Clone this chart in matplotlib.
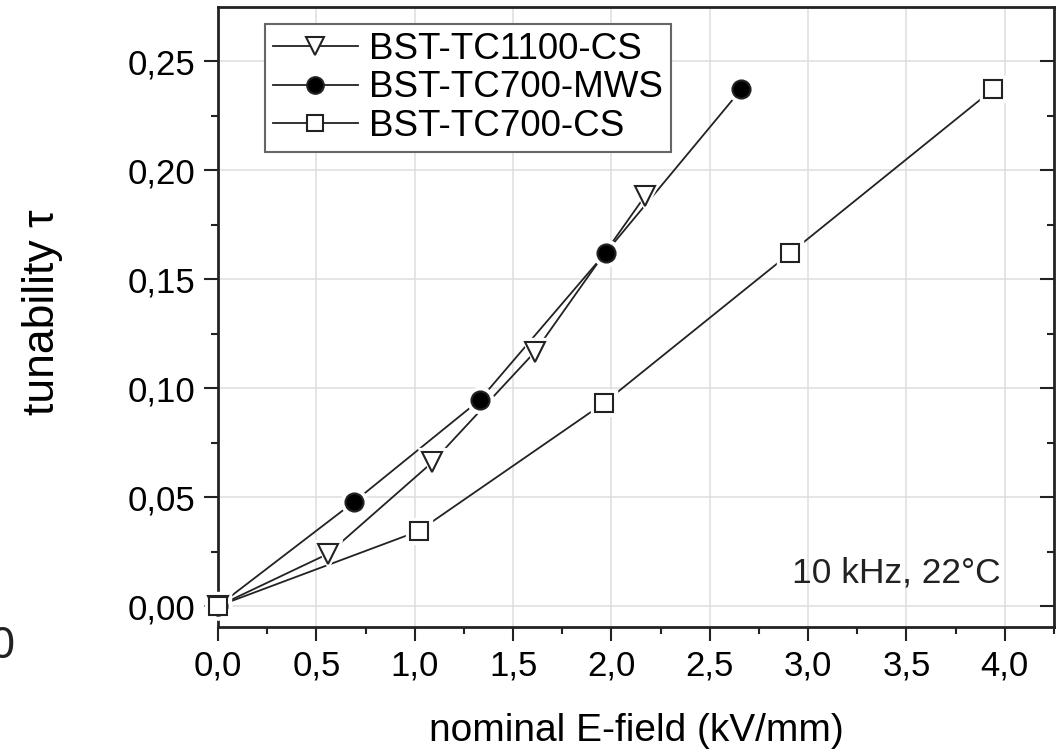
import matplotlib
matplotlib.use('Agg')
import matplotlib.pyplot as plt
from matplotlib.ticker import MultipleLocator, FuncFormatter

plt.rcParams['font.family'] = ['Liberation Sans', 'DejaVu Sans']

# data
e_tc1100_cs = [0.0, 0.56, 1.09, 1.61, 2.17]
tau_tc1100_cs = [0.0, 0.024, 0.066, 0.1165, 0.188]

e_tc700_mws = [0.0, 0.69, 1.33, 1.97, 2.66]
tau_tc700_mws = [0.0, 0.0477, 0.0945, 0.162, 0.237]

e_tc700_cs = [0.0, 1.02, 1.96, 2.91, 3.94]
tau_tc700_cs = [0.0, 0.0344, 0.093, 0.162, 0.237]

labels = ['BST-TC1100-CS', 'BST-TC700-MWS', 'BST-TC700-CS']

fig = plt.figure(figsize=(10.61, 7.49), dpi=100)
ax = fig.add_axes([0.2055, 0.1629, 0.7879, 0.8278])

series = [
    (e_tc1100_cs, tau_tc1100_cs, 'v', 'white', 14),
    (e_tc700_mws, tau_tc700_mws, 'o', 'black', 13),
    (e_tc700_cs, tau_tc700_cs, 's', 'white', 13),
]

handles = []
for (x, y, m, fc, ms), lab in zip(series, labels):
    # line, then white mask markers to leave a small gap like Origin does
    ax.plot(x, y, '-', color='#222222', lw=1.3, zorder=2)
    ax.plot(x, y, ls='none', marker=m, ms=ms + 6, mfc='white', mec='white',
            zorder=3, clip_on=False)
    ax.plot(x, y, ls='none', marker=m, ms=ms, mfc=fc, mec='#222222',
            mew=1.5, zorder=4, clip_on=False)
    h, = ax.plot([], [], '-', color='#222222', lw=1.3, marker=m, ms=ms - 1,
                 mfc=fc, mec='#222222', mew=1.5)
    handles.append(h)

ax.set_xlim(0, 4.25)
ax.set_ylim(-0.0096, 0.2748)

comma = lambda fmt: FuncFormatter(lambda v, p: (fmt % v).replace('.', ','))
ax.xaxis.set_major_locator(MultipleLocator(0.5))
ax.xaxis.set_minor_locator(MultipleLocator(0.25))
ax.yaxis.set_major_locator(MultipleLocator(0.05))
ax.yaxis.set_minor_locator(MultipleLocator(0.025))
ax.xaxis.set_major_formatter(comma('%.1f'))
ax.yaxis.set_major_formatter(comma('%.2f'))

ax.tick_params(axis='both', which='major', labelsize=25, length=10, width=1.5,
               color='#222222', pad=6)
ax.tick_params(axis='both', which='minor', length=5, width=1.5, color='#222222')
ax.tick_params(axis='y', which='both', right=True, direction='out')
ax.tick_params(axis='x', which='both', top=False, direction='out')
ax.grid(True, which='major', color='#dedede', lw=1.1)
ax.set_axisbelow(True)
for s in ax.spines.values():
    s.set_linewidth(2)
    s.set_color('#222222')

# right-hand ticks point inward
for t in ax.yaxis.get_major_ticks() + ax.yaxis.get_minor_ticks():
    t.tick2line.set_marker(matplotlib.lines.TICKLEFT)

ax.set_xlabel('nominal E-field (kV/mm)', fontsize=28, va='top')
ax.xaxis.set_label_coords(0.5, -0.139)
ax.set_ylabel('tunability \u03c4', fontsize=32, va='bottom')
ax.yaxis.set_label_coords(-0.186, 0.508)

ax.text(3.45, 0.015, '10 kHz, 22\u00b0C', fontsize=25.5, ha='center',
        va='center', color='#222222')

leg = ax.legend(handles, labels, loc='upper left', bbox_to_anchor=(0.056, 0.973),
                fontsize=26.5, frameon=True, fancybox=False, borderaxespad=0,
                handlelength=2.3, handletextpad=0.3, labelspacing=0.1,
                borderpad=0.22)
leg.get_frame().set_edgecolor('#666666')
leg.get_frame().set_linewidth(1.5)
leg.get_frame().set_alpha(1)

# cropped glyph at the left edge of the source image
fig.text(15 / 1061, 1 - 647 / 749, '0', fontsize=32, family='Noto Sans',
         ha='right', va='center', color='#222222')

fig.savefig('out.png', dpi=100)
